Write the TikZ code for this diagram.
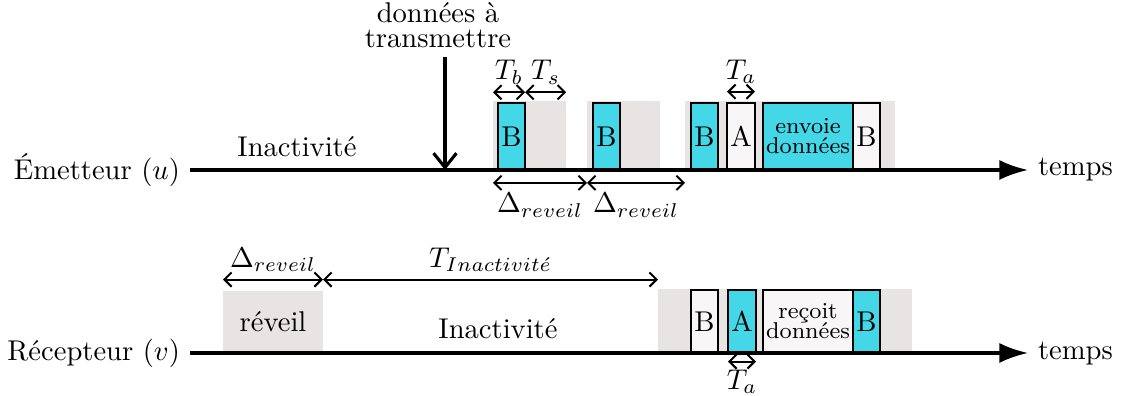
\documentclass[tikz,border=0pt]{standalone}
\usepackage{fontspec}
\usetikzlibrary{positioning, arrows.meta}
\definecolor{boxcyan}{HTML}{44D7E8}
\definecolor{zonegray}{HTML}{E8E4E4}
\definecolor{boxwhite}{HTML}{F8F6F7}
\tikzset{
	zone/.style = {fill=zonegray, minimum height=24.2pt, inner sep=0pt, outer sep=0pt, anchor=south west},
	slot/.style = {draw=black, line width=0.8pt, minimum height=23.4pt, minimum width=9.5pt,
	 inner sep=0pt, outer sep=0pt, anchor=south west},
	cslot/.style = {slot, fill=boxcyan},
	wslot/.style = {slot, fill=boxwhite},
	timeline/.style = {line width=1.1pt, -{Latex[length=10pt,width=7pt]}},
	signal/.style = {line width=1.1pt, -{Straight Barb[length=5pt,width=8pt]}},
	duree/.style = {{Straight Barb[length=2.5pt,width=5pt]}-{Straight Barb[length=2.5pt,width=5pt]}, line width=0.7pt},
	lbl/.style = {inner sep=2.5pt}}

\begin{document}
\begin{tikzpicture}[x=0.35pt, y=0.35pt]
\useasboundingbox (0,0) rectangle (1121,396);

% NODES
% emetteur
\node (emet) [anchor=east] at (190,226) {Émetteur ($u$)};
\node (tempsu) [anchor=west] at (1028,226) {temps};
\node (inactu) at (297,249) {Inactivité};
\node (donnees) [align=center, inner sep=1pt, anchor=south] at (438,345) {données à\\[-3.5pt]transmettre};
\coordinate (arrivee) at (445,226);
\node (gu1) [zone, minimum width=25.6pt] at (493,226) {};
\node (gu2) [zone, minimum width=25.6pt] at (587,226) {};
\node (gu3) [zone, minimum width=73.5pt] at (685,226) {};
\node (bu1) [cslot] at (498,226) {B};
\node (bu2) [cslot] at (593,226) {B};
\node (bu3) [cslot] at (691,226) {B};
\node (au) [wslot, minimum width=9.8pt] at (727,226) {A};
\node (envu) [cslot, minimum width=31.5pt, font=\footnotesize, align=center] at (763,226) {envoie\\[-2.5pt]données};
\node (bu4) [wslot, right=0pt of envu] {B};
% recepteur
\node (recep) [anchor=east] at (190,43) {Récepteur ($v$)};
\node (tempsv) [anchor=west] at (1028,43) {temps};
\node (reveil) [zone, minimum width=35pt, minimum height=21.7pt] at (223,43) {réveil};
\node (inactv) at (498,67) {Inactivité};
\node (gv) [zone, minimum width=89pt, minimum height=22.4pt] at (658,43) {};
\node (bv1) [wslot, minimum height=22pt] at (691,43) {B};
\node (av) [cslot, minimum height=22pt, minimum width=9.8pt] at (728,43) {A};
\node (recv) [wslot, minimum height=22pt, minimum width=31.5pt, font=\footnotesize, align=center] at (763,43) {reçoit\\[-2.5pt]données};
\node (bv2) [cslot, minimum height=22pt, right=0pt of recv] {B};

%CONNECTIONS
\draw [timeline] (emet.east) -- (tempsu.west);
\draw [timeline] (recep.east) -- (tempsv.west);
\draw [signal, shorten <=2pt] (donnees.south -| arrivee) -- (arrivee);
% durees emetteur
\coordinate (tb) at ([yshift=3pt]gu1.north west);
\draw [duree] (tb) -- node [above, lbl] {$T_b$} (tb -| bu1.east);
\draw [duree] (tb -| bu1.east) -- node [above, lbl] {$T_s$} (tb -| gu1.east);
\coordinate (du) at ([yshift=-4.5pt]gu1.south west);
\draw [duree] (du) -- node [below] {$\Delta_{reveil}$} (du -| gu2.west);
\draw [duree] (du -| gu2.west) -- node [below] {$\Delta_{reveil}$} (du -| gu3.west);
\draw [duree] ([yshift=4pt]au.north west) -- node [above, lbl] {$T_a$} ([yshift=4pt]au.north east);
% durees recepteur
\coordinate (dv) at ([yshift=4pt]reveil.north west);
\draw [duree] (dv) -- node [above, lbl] {$\Delta_{reveil}$} (dv -| reveil.east);
\draw [duree] (dv -| reveil.east) -- node [above, lbl] {$T_{Inactivit\acute{e}}$} (dv -| gv.west);
\draw [duree] ([yshift=-3pt]av.south west) -- node [below, lbl] {$T_a$} ([yshift=-3pt]av.south east);

\end{tikzpicture}
\end{document}
